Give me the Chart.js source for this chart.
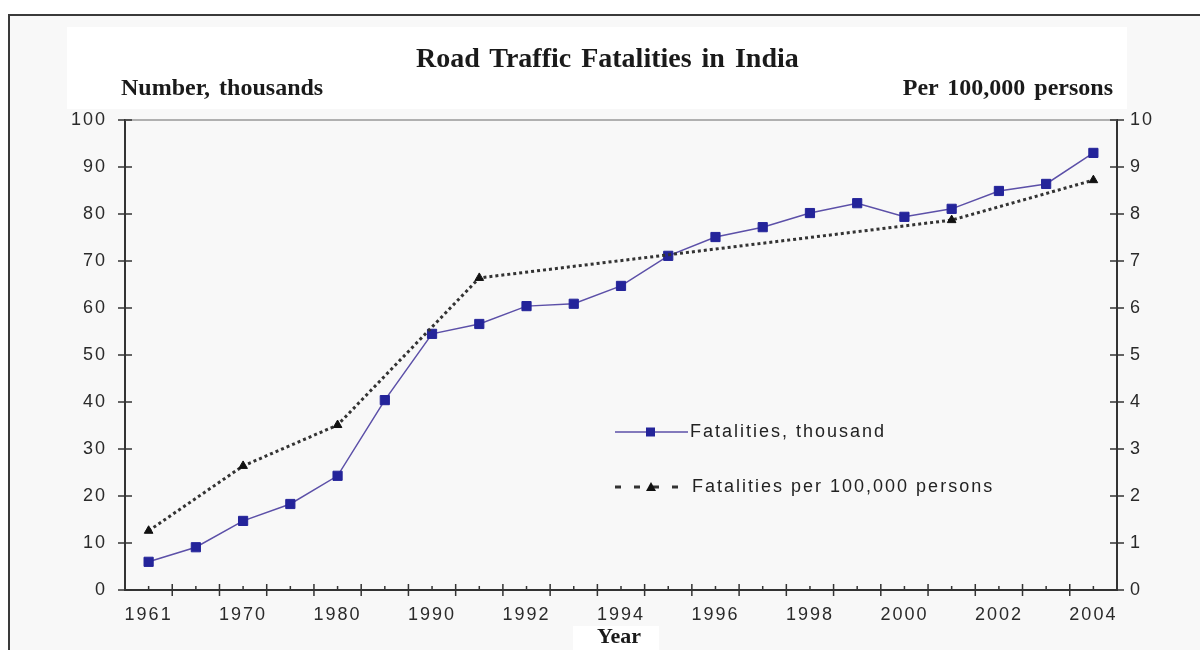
<!DOCTYPE html>
<html>
<head>
<meta charset="utf-8">
<script src="https://cdn.jsdelivr.net/npm/chart.js@4.4.1/dist/chart.umd.min.js"></script>
<style>
  body { margin: 0; background: #fff; width: 1200px; height: 650px; overflow: hidden; position: relative; }
  #frame { position: absolute; left: 8px; top: 14px; width: 1300px; height: 700px; border: 2px solid #3a3a3a; background: #f8f8f8; }
  #band { position: absolute; left: 67px; top: 27px; width: 1060px; height: 82px; background: #fff; }
  #yearbox { position: absolute; left: 573px; top: 626px; width: 86px; height: 30px; background: #fff; }
  canvas { position: absolute; left: 0; top: 0; }
  .lbl { position: absolute; font-family: "Liberation Serif", serif; font-weight: bold; color: #1a1a1a; white-space: nowrap; }
</style>
</head>
<body>
<div id="frame"></div>
<div id="band"></div>
<div id="yearbox"></div>
<canvas id="roadChart" width="1200" height="650"></canvas>
<div class="lbl" style="left:416px; top:42px; font-size:28px; word-spacing:3px;">Road Traffic Fatalities in India</div>
<div class="lbl" style="left:121px; top:74px; font-size:24px; word-spacing:3px;">Number, thousands</div>
<div class="lbl" style="right:87px; top:74px; font-size:24px; word-spacing:3px;">Per 100,000 persons</div>
<div class="lbl" style="left:597px; top:623px; font-size:22px;">Year</div>
<script>
// Years on the category axis (every other one gets a label)
const years = ['1961', '1965', '1970', '1975', '1980', '1985', '1990', '1991', '1992', '1993', '1994',
    '1995', '1996', '1997', '1998', '1999', '2000', '2001', '2002', '2003', '2004'];

// Fatalities, thousands (left axis)
const fatalities = [6.0, 9.1, 14.7, 18.3, 24.3, 40.4, 54.5, 56.6, 60.4, 60.9, 64.7,
    71.1, 75.1, 77.2, 80.2, 82.3, 79.4, 81.1, 84.9, 86.4, 93.0];

// Fatalities per 100,000 persons (right axis), census years only
const ratePer100k = [1.26, null, 2.64, null, 3.51, null, null, 6.64, null, null, null,
    null, null, null, null, null, null, 7.87, null, null, 8.72];

const legendLabels = ['Fatalities, thousand', 'Fatalities per 100,000 persons'];

const tickFont = { family: 'Liberation Sans', size: 18 };

// Tick marks that cross the axis lines, like the old spreadsheet chart
const crossTicks = {
    id: 'crossTicks',
    beforeDraw(chart) {
        chart.ctx.letterSpacing = '2px';
    },
    afterDraw(chart) {
        const ctx = chart.ctx;
        const area = chart.chartArea;
        const x = chart.scales.x;
        ctx.save();
        ctx.lineWidth = 1.5;

        // top edge of the plot area
        ctx.beginPath();
        ctx.strokeStyle = '#999';
        ctx.moveTo(area.left, area.top);
        ctx.lineTo(area.right, area.top);
        ctx.stroke();
        ctx.strokeStyle = '#333';

        ['y', 'y1'].forEach(id => {
            const s = chart.scales[id];
            const ax = id === 'y' ? area.left : area.right;
            s.ticks.forEach(t => {
                const py = s.getPixelForValue(t.value);
                ctx.beginPath();
                ctx.moveTo(ax - 7, py);
                ctx.lineTo(ax + 7, py);
                ctx.stroke();
            });
        });

        const half = (x.getPixelForValue(1) - x.getPixelForValue(0)) / 2;
        for (let i = 0; i < years.length; i++) {
            const px = x.getPixelForValue(i);
            ctx.beginPath();
            ctx.moveTo(px, area.bottom - 4);
            ctx.lineTo(px, area.bottom);
            if (i > 0) {
                ctx.moveTo(px - half, area.bottom - 6);
                ctx.lineTo(px - half, area.bottom + 6);
            }
            ctx.stroke();
        }
        ctx.restore();
    }
};

// Legend drawn inside the plot area
const innerLegend = {
    id: 'innerLegend',
    afterDraw(chart) {
        const ctx = chart.ctx;
        ctx.save();
        ctx.font = '18px "Liberation Sans"';
        ctx.letterSpacing = '2px';
        ctx.fillStyle = '#222';
        ctx.textBaseline = 'middle';

        // row 1
        let y = 432;
        ctx.strokeStyle = '#5c50a8';
        ctx.lineWidth = 1.5;
        ctx.beginPath();
        ctx.moveTo(615, y);
        ctx.lineTo(688, y);
        ctx.stroke();
        ctx.fillStyle = '#24249a';
        ctx.fillRect(646, y - 4.5, 9, 9);
        ctx.fillStyle = '#222';
        ctx.fillText(legendLabels[0], 690, y);

        // row 2
        y = 487;
        ctx.strokeStyle = '#333';
        ctx.lineWidth = 3;
        ctx.setLineDash([6, 13]);
        ctx.beginPath();
        ctx.moveTo(615, y);
        ctx.lineTo(690, y);
        ctx.stroke();
        ctx.setLineDash([]);
        ctx.fillStyle = '#111';
        ctx.beginPath();
        ctx.moveTo(651, y - 5);
        ctx.lineTo(656, y + 4);
        ctx.lineTo(646, y + 4);
        ctx.closePath();
        ctx.fill();
        ctx.fillStyle = '#222';
        ctx.fillText(legendLabels[1], 692, y);
        ctx.restore();
    }
};

const ctx = document.getElementById('roadChart').getContext('2d');
new Chart(ctx, {
    type: 'line',
    data: {
        labels: years,
        datasets: [
            {
                label: legendLabels[0],
                data: fatalities,
                yAxisID: 'y',
                borderColor: '#5c50a8',
                borderWidth: 1.5,
                pointStyle: 'rect',
                pointRadius: 6.5,
                pointBorderWidth: 1,
                pointBackgroundColor: '#24249a',
                pointBorderColor: '#24249a',
                tension: 0,
                order: 2
            },
            {
                label: legendLabels[1],
                data: ratePer100k,
                yAxisID: 'y1',
                spanGaps: true,
                borderColor: '#333',
                borderWidth: 3,
                borderDash: [3, 3],
                pointStyle: 'triangle',
                pointRadius: 5,
                pointBackgroundColor: '#111',
                pointBorderColor: '#111',
                pointBorderWidth: 1,
                tension: 0,
                order: 1
            }
        ]
    },
    options: {
        responsive: false,
        animation: false,
        events: [],
        layout: { padding: { top: 120 } },
        plugins: {
            legend: { display: false },
            tooltip: { enabled: false }
        },
        scales: {
            x: {
                offset: true,
                grid: { display: false, drawTicks: false },
                border: { color: '#333', width: 2 },
                ticks: {
                    autoSkip: false,
                    maxRotation: 0,
                    font: tickFont,
                    color: '#2a2a2a',
                    padding: 14,
                    callback: (v, i) => (i % 2 === 0 ? years[i] : '')
                },
                afterFit: s => { s.height = 60; }
            },
            y: {
                position: 'left',
                min: 0,
                max: 100,
                grid: { display: false, drawTicks: false },
                border: { color: '#333', width: 2 },
                ticks: { stepSize: 10, font: tickFont, color: '#2a2a2a', padding: 18 },
                afterFit: s => { s.width = 125; }
            },
            y1: {
                position: 'right',
                min: 0,
                max: 10,
                grid: { display: false, drawTicks: false },
                border: { color: '#333', width: 2 },
                ticks: { stepSize: 1, font: tickFont, color: '#2a2a2a', padding: 13 },
                afterFit: s => { s.width = 83; }
            }
        }
    },
    plugins: [crossTicks, innerLegend]
});
</script>
</body>
</html>
